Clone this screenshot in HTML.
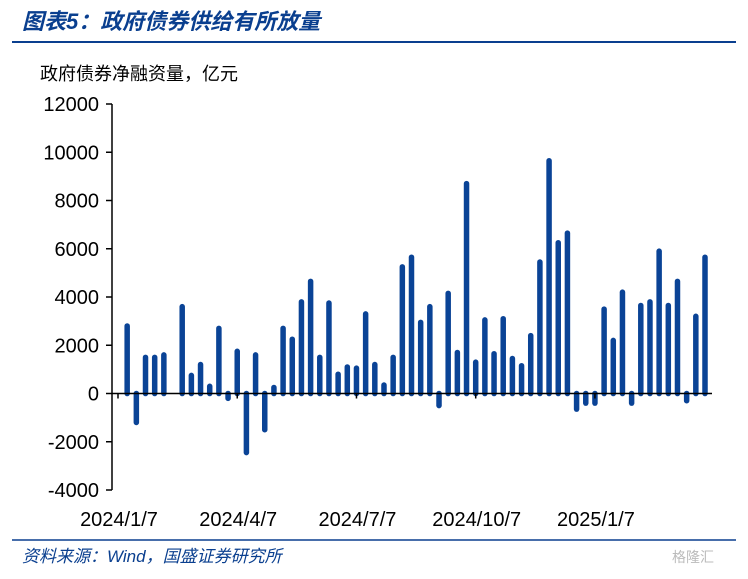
<!DOCTYPE html>
<html><head><meta charset="utf-8"><style>
body{margin:0;background:#fff;width:748px;height:574px;overflow:hidden;font-family:"Liberation Sans","Noto Sans CJK SC",sans-serif;}
svg text{font-family:"Liberation Sans","Noto Sans CJK SC",sans-serif;}
</style></head><body>
<svg id="chart" width="748" height="574">
<text x="22" y="29" font-size="22" font-weight="bold" font-style="italic" fill="#0a3f8f">图表5：政府债券供给有所放量</text>
<line x1="12" y1="42" x2="736" y2="42" stroke="#0a3f8f" stroke-width="2"/>
<text x="40" y="80" font-size="18" fill="#000">政府债券净融资量，亿元</text>
<line x1="12" y1="540" x2="736" y2="540" stroke="#0a3f8f" stroke-width="1.5"/>
<text x="22" y="562" font-size="17" font-style="italic" fill="#0a3f8f">资料来源：Wind，国盛证券研究所</text>
<text x="672" y="562" font-size="14" fill="#bbb">格隆汇</text>
<g id="plot"></g>
</svg>
<script>
const values=[0,2800,-1200,1500,1500,1600,0,3600,750,1200,300,2700,-200,1750,-2450,1600,-1500,250,2700,2250,3800,4650,1500,3750,800,1100,1050,3300,1200,350,1500,5250,5650,2950,3600,-500,4150,1700,8700,1300,3050,1650,3100,1450,1150,2400,5450,9650,6250,6650,-650,-400,-400,3500,2200,4200,-400,3650,3800,5900,3650,4650,-300,3200,5650];
const yTicks=[12000,10000,8000,6000,4000,2000,0,-2000,-4000];
const xTickLabels=["2024/1/7","2024/4/7","2024/7/7","2024/10/7","2025/1/7"];
const xTickIndex=[0,13,26,39,52];
const NS="http://www.w3.org/2000/svg";
const g=document.getElementById('plot');
const yMin=-4000,yMax=12000,plotTop=104,plotBot=490;
const y=v=>plotBot-(v-yMin)/(yMax-yMin)*(plotBot-plotTop);
const x0=118,step=(705-118)/64;
const x=i=>x0+i*step;
function mk(t,a){const e=document.createElementNS(NS,t);for(const k in a)e.setAttribute(k,a[k]);g.appendChild(e);return e;}
values.forEach((v,i)=>{
 if(v===0)return;
 const b=mk('line',{x1:x(i),x2:x(i),y1:y(0),y2:y(v),stroke:'#0a4396','stroke-width':5.5,'stroke-linecap':'round'});
 
 
});
const ax=mk('line',{x1:112,x2:112,y1:plotTop,y2:plotBot,stroke:'#000','stroke-width':1.5});


yTicks.forEach(t=>{
 const tk=mk('line',{x1:106,x2:112,y1:y(t),y2:y(t),stroke:'#000','stroke-width':1.5});
 
 
 const tx=mk('text',{x:99,y:y(t)+7,'text-anchor':'end','font-size':20,fill:'#000'});
 tx.textContent=t;
 
 
});
const zx=mk('line',{x1:112,x2:712,y1:y(0),y2:y(0),stroke:'#000','stroke-width':1.5});


xTickIndex.forEach((idx,k)=>{
 const tk=mk('line',{x1:x(idx),x2:x(idx),y1:y(0),y2:y(0)+5,stroke:'#000','stroke-width':1.5});
 
 
 const tx=mk('text',{x:x(idx)+1,y:526,'text-anchor':'middle','font-size':20,fill:'#000'});
 tx.textContent=xTickLabels[k];
 
 
});
</script>
</body></html>
